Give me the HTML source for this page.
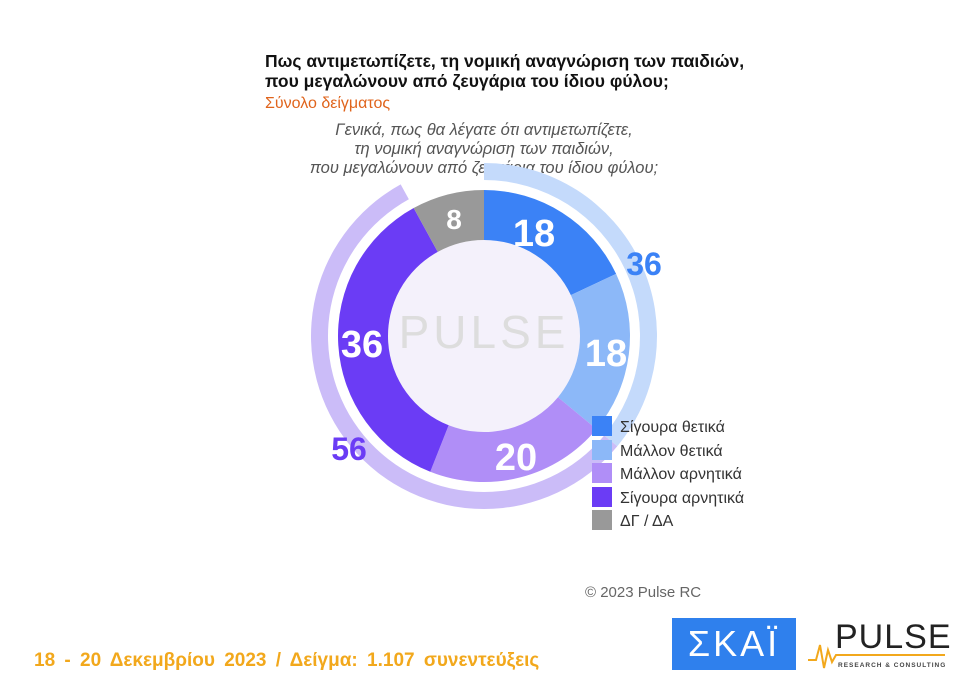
<!DOCTYPE html><html><head><meta charset="utf-8"><style>
body{margin:0;width:960px;height:692px;background:#fff;font-family:"Liberation Sans",sans-serif;position:relative;overflow:hidden}
.t{position:absolute;left:265px;top:51px;font-weight:bold;font-size:17.5px;line-height:20px;color:#111;white-space:nowrap}
.s{position:absolute;left:265px;top:95px;font-size:16px;color:#e0641c}
.q{position:absolute;left:240px;width:488px;top:121px;text-align:center;font-style:italic;font-size:16.5px;line-height:19px;color:#555}
.f{position:absolute;left:34px;top:650px;font-weight:bold;font-size:19px;color:#f2a81c;word-spacing:4px;white-space:nowrap}
</style></head><body>
<div class="t">Πως αντιμετωπίζετε, τη νομική αναγνώριση των παιδιών,<br>που μεγαλώνουν από ζευγάρια του ίδιου φύλου;</div>
<div class="s">Σύνολο δείγματος</div>
<div class="q">Γενικά, πως θα λέγατε ότι αντιμετωπίζετε,<br>τη νομική αναγνώριση των παιδιών,<br>που μεγαλώνουν από ζευγάρια του ίδιου φύλου;</div>
<svg width="960" height="692" style="position:absolute;left:0;top:0">
<g transform="translate(484,336)" font-family="Liberation Sans" font-weight="bold">
<circle r="96" fill="#f4f1fb"/>
<text x="0" y="12" text-anchor="middle" font-size="46" font-weight="normal" fill="#ddd" letter-spacing="4">PULSE</text>
<g id="segs"></g>
</g>
<text x="585" y="597" font-size="15" fill="#666" font-family="Liberation Sans">© 2023 Pulse RC</text>
<rect x="672" y="618" width="124" height="52" fill="#2f80ed"/>
<text x="734" y="656" text-anchor="middle" font-size="36" fill="#fff" font-family="Liberation Sans" letter-spacing="3">ΣΚΑΪ</text>
<polyline points="808,660 816,660 820,645 824,668 828,650 832,662 836,655 945,655" fill="none" stroke="#f2a81c" stroke-width="2"/>
<text x="835" y="648" font-size="34" fill="#222" font-family="Liberation Sans" letter-spacing="1">PULSE</text>
<text x="838" y="667" font-size="6.5" fill="#444" font-family="Liberation Sans" font-weight="bold" letter-spacing="1">RESEARCH &amp; CONSULTING</text>
<g font-family="Liberation Sans" font-size="16" fill="#333">
<rect x="592" y="416" width="20" height="20" fill="#3b82f6"/><text x="620" y="432">Σίγουρα θετικά</text>
<rect x="592" y="440" width="20" height="20" fill="#8cb8f8"/><text x="620" y="456">Μάλλον θετικά</text>
<rect x="592" y="463" width="20" height="20" fill="#b08ef7"/><text x="620" y="479">Μάλλον αρνητικά</text>
<rect x="592" y="487" width="20" height="20" fill="#6b3cf5"/><text x="620" y="503">Σίγουρα αρνητικά</text>
<rect x="592" y="510" width="20" height="20" fill="#999"/><text x="620" y="526">ΔΓ / ΔΑ</text>
</g>
</svg>
<div class="f">18 - 20 Δεκεμβρίου 2023 / Δείγμα: 1.107 συνεντεύξεις</div>
<script>
function arc(r1,r2,a0,a1,c){const R=Math.PI/180;function p(r,a){return [r*Math.sin(a*R),-r*Math.cos(a*R)]}
const l=(a1-a0)>180?1:0;const A=p(r2,a0),B=p(r2,a1),C=p(r1,a1),D=p(r1,a0);
return `<path d="M${A} A${r2},${r2} 0 ${l} 1 ${B} L${C} A${r1},${r1} 0 ${l} 0 ${D}Z" fill="${c}"/>`}
let s='';
s+=arc(156,173,0,129.6,'#c4dafb');s+=arc(156,173,129.6,331.2,'#cbbcf8');
s+=arc(96,146,0,64.8,'#3b82f6');s+=arc(96,146,64.8,129.6,'#8cb8f8');s+=arc(96,146,129.6,201.6,'#b08ef7');s+=arc(96,146,201.6,331.2,'#6b3cf5');s+=arc(96,146,331.2,360,'#999');
const t=[[50,-90,'18',38,'#fff'],[122,30,'18',38,'#fff'],[32,134,'20',38,'#fff'],[-122,21,'36',38,'#fff'],[-30,-107,'8',28,'#fff'],[160,-61,'36',32,'#3b82f6'],[-135,124,'56',32,'#6b3cf5']];
t.forEach(x=>s+=`<text x="${x[0]}" y="${x[1]}" text-anchor="middle" font-size="${x[3]}" fill="${x[4]}">${x[2]}</text>`);
document.getElementById('segs').innerHTML=s;
</script>
</body></html>
